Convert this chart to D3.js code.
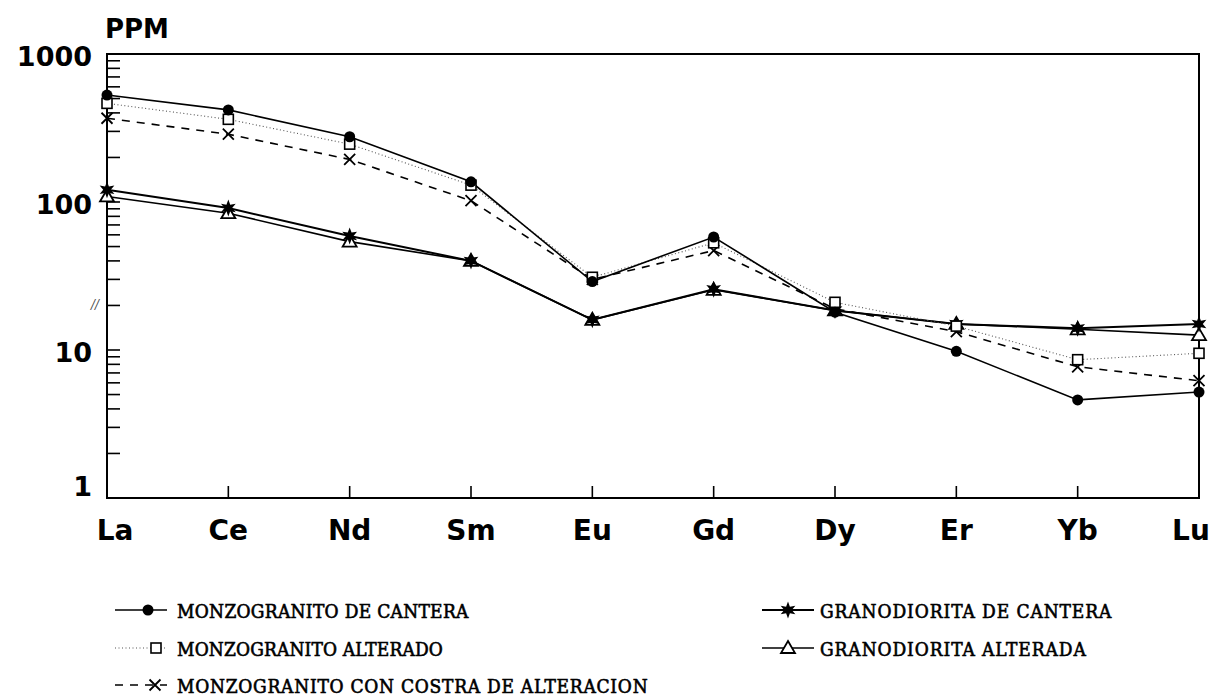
<!DOCTYPE html>
<html>
<head>
<meta charset="utf-8">
<script src="https://cdn.jsdelivr.net/npm/d3@7"></script>
<style>
  body { margin: 0; background: #fff; }
  svg { display: block; }
</style>
</head>
<body>
<div id="chart"></div>
<script>
  // elements and ppm values
  const elements = ["La", "Ce", "Nd", "Sm", "Eu", "Gd", "Dy", "Er", "Yb", "Lu"];
  const monzoCantera  = [528, 419, 276, 137, 29, 58, 18, 9.8, 4.6, 5.2];
  const monzoAlterado = [464, 362, 246, 130, 31, 53, 21, 14.5, 8.6, 9.5];
  const monzoCostra   = [368, 287, 194, 102, 30, 47, 19, 13.3, 7.7, 6.2];
  const granoCantera  = [121, 91, 59, 40, 16, 25.7, 18.5, 15, 14, 15];
  const granoAlterada = [109, 84, 54, 40, 16, 25.5, 18.5, 15, 13.8, 12.6];
  const yTicks = [1, 10, 100, 1000];

  const series = [
    {name: "MONZOGRANITO DE CANTERA", values: monzoCantera, marker: "circle", dash: null, width: 1.6, color: "#000"},
    {name: "MONZOGRANITO ALTERADO", values: monzoAlterado, marker: "square", dash: "1,2.5", width: 1.1, color: "#555"},
    {name: "MONZOGRANITO CON COSTRA DE ALTERACION", values: monzoCostra, marker: "x", dash: "8,7", width: 1.6, color: "#000"},
    {name: "GRANODIORITA DE CANTERA", values: granoCantera, marker: "star", dash: null, width: 2, color: "#000"},
    {name: "GRANODIORITA ALTERADA", values: granoAlterada, marker: "triangle", dash: null, width: 1.6, color: "#000"}
  ];

  const margin = {top: 54, right: 25, bottom: 199, left: 107},
      W = 1224, H = 697,
      width = W - margin.left - margin.right,
      height = H - margin.top - margin.bottom;

  const svg = d3.select("#chart")
    .append("svg")
      .attr("width", W)
      .attr("height", H)
    .append("g")
      .attr("transform", `translate(${margin.left}, ${margin.top})`);

  const x = d3.scalePoint()
    .domain(elements)
    .range([0, width]);

  const y = d3.scaleLog()
    .domain([1, 1000])
    .range([height, 0]);

  // frame
  svg.append("rect")
    .attr("width", width)
    .attr("height", height)
    .attr("fill", "none")
    .attr("stroke", "#000")
    .attr("stroke-width", 2);

  // minor + major ticks on the left, pointing inwards
  const logTicks = [];
  for (let d = 1; d < 1000; d *= 10) {
    for (let k = 1; k < 10; k++) logTicks.push(d * k);
  }
  logTicks.push(1000);
  svg.append("g").selectAll("line")
    .data(logTicks)
    .join("line")
      .attr("x1", 0)
      .attr("x2", 13)
      .attr("y1", d => y(d))
      .attr("y2", d => y(d))
      .attr("stroke", "#000")
      .attr("stroke-width", 1.6);

  svg.append("g").selectAll("text")
    .data(yTicks)
    .join("text")
      .attr("x", -15)
      .attr("y", d => d === 1 ? y(d) - 12 : y(d) + 2)
      .attr("text-anchor", "end")
      .attr("dominant-baseline", "central")
      .attr("font-family", "DejaVu Sans")
      .attr("font-weight", "bold")
      .attr("font-size", 27)
      .text(d => d);

  svg.append("text")
    .attr("x", -2)
    .attr("y", -16)
    .attr("font-family", "DejaVu Sans")
    .attr("font-weight", "bold")
    .attr("font-size", 26)
    .text("PPM");

  svg.append("text")
    .attr("x", -16)
    .attr("y", y(20) + 4)
    .attr("font-family", "DejaVu Serif")
    .attr("font-style", "italic")
    .attr("font-size", 12)
    .attr("fill", "#444")
    .text("//");

  // x ticks, pointing up from the bottom
  svg.append("g").selectAll("line")
    .data(elements.slice(1, -1))
    .join("line")
      .attr("x1", d => x(d))
      .attr("x2", d => x(d))
      .attr("y1", height)
      .attr("y2", height - 12)
      .attr("stroke", "#000")
      .attr("stroke-width", 1.6);

  svg.append("g").selectAll("text")
    .data(elements)
    .join("text")
      .attr("x", (d, i) => x(d) + (i === 0 ? 8 : i === elements.length - 1 ? -8 : 0))
      .attr("y", height + 42)
      .attr("text-anchor", "middle")
      .attr("font-family", "DejaVu Sans")
      .attr("font-weight", "bold")
      .attr("font-size", 28)
      .text(d => d);

  // marker drawing
  function drawMarker(g, type) {
    if (type === "circle") {
      g.append("circle").attr("r", 5.5).attr("fill", "#000");
    } else if (type === "square") {
      g.append("rect").attr("x", -5).attr("y", -5).attr("width", 10).attr("height", 10)
        .attr("fill", "#fff").attr("stroke", "#000").attr("stroke-width", 1.6);
    } else if (type === "x") {
      g.append("path").attr("d", "M-5.5,-5.5L5.5,5.5M-5.5,5.5L5.5,-5.5")
        .attr("stroke", "#000").attr("stroke-width", 1.8);
    } else if (type === "star") {
      const pts = d3.range(12).map(i => {
        const a = i * Math.PI / 6 - Math.PI / 2;
        const r = i % 2 ? 3.8 : 8.5;
        return [r * Math.cos(a), r * Math.sin(a)];
      });
      g.append("path").attr("d", "M" + pts.join("L") + "Z").attr("fill", "#000");
    } else if (type === "triangle") {
      g.append("path").attr("d", "M0,-7L7,5L-7,5Z")
        .attr("fill", "#fff").attr("stroke", "#000").attr("stroke-width", 1.8);
    }
  }

  const line = d3.line()
    .x((d, i) => x(elements[i]))
    .y(d => y(d));

  // draw series in back-to-front order
  const order = [4, 3, 2, 1, 0];
  order.forEach(k => {
    const s = series[k];
    svg.append("path")
      .datum(s.values)
      .attr("fill", "none")
      .attr("stroke", s.color)
      .attr("stroke-width", s.width)
      .attr("stroke-dasharray", s.dash)
      .attr("d", line);
  });
  order.forEach(k => {
    const s = series[k];
    svg.append("g").selectAll("g")
      .data(s.values)
      .join("g")
        .attr("transform", (d, i) => `translate(${x(elements[i])}, ${y(d)})`)
        .each(function() { drawMarker(d3.select(this), s.marker); });
  });

  // legend (typewriter-like: serif face forced to a fixed pitch)
  const pitch = 12.8;
  const legendPos = [
    {s: 0, x: 8, y: 556, mx: 33},
    {s: 1, x: 8, y: 594, mx: 41},
    {s: 2, x: 8, y: 631, mx: 40},
    {s: 3, x: 655, y: 556, mx: 26},
    {s: 4, x: 655, y: 594, mx: 26}
  ];
  const legend = svg.append("g").selectAll("g")
    .data(legendPos)
    .join("g")
      .attr("transform", d => `translate(${d.x}, ${d.y})`);

  legend.append("line")
    .attr("x1", 0)
    .attr("x2", 52)
    .attr("stroke", d => series[d.s].color)
    .attr("stroke-width", d => series[d.s].width)
    .attr("stroke-dasharray", d => series[d.s].dash);

  legend.append("g")
    .attr("transform", d => `translate(${d.mx}, 0)`)
    .each(function(d) { drawMarker(d3.select(this), series[d.s].marker); });

  legend.append("text")
    .attr("x", d => d.s < 3 ? 62 : 58)
    .attr("y", 1)
    .attr("dominant-baseline", "central")
    .attr("font-family", "DejaVu Serif Condensed")
    .attr("font-size", 19)
    .attr("stroke", "#000")
    .attr("stroke-width", 0.6)
    .attr("textLength", d => series[d.s].name.length * pitch - 3)
    .attr("lengthAdjust", "spacing")
    .text(d => series[d.s].name);
</script>
</body>
</html>
